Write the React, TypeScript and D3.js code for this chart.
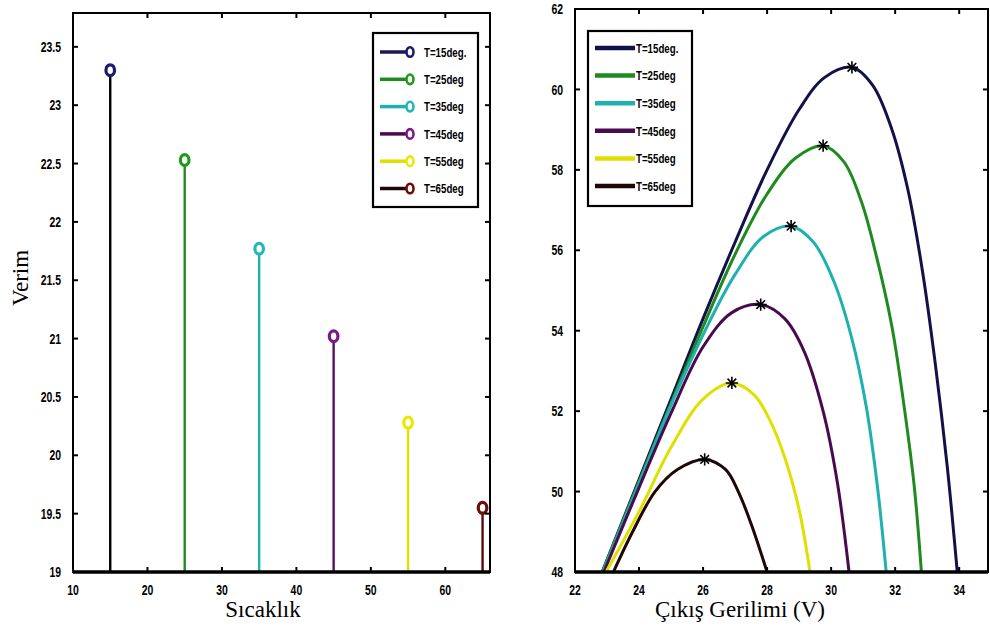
import React, { useEffect, useRef } from 'react';
import * as d3 from 'd3';

// left chart: efficiency vs temperature (stem plot)
const temps = [15, 25, 35, 45, 55, 65];
const verim = [23.3, 22.53, 21.77, 21.02, 20.28, 19.55];
const legendLabels = ['T=15deg.', 'T=25deg', 'T=35deg', 'T=45deg', 'T=55deg', 'T=65deg'];
const leftXTicks = [10, 20, 30, 40, 50, 60];
const leftYTicks = [19, 19.5, 20, 20.5, 21, 21.5, 22, 22.5, 23, 23.5];

// right chart: power vs output voltage, one curve per temperature
const curve15 = [[22.85, 48], [24, 50.3], [25, 52.3], [26, 54.3], [27, 56.2], [28, 58.0], [29, 59.5], [29.8, 60.3], [30.65, 60.55], [31.3, 60.1], [31.9, 59.0], [32.4, 57.5], [32.85, 55.5], [33.25, 53.2], [33.63, 50.6], [33.94, 48]];
const curve25 = [[22.85, 48], [24, 50.25], [25, 52.2], [26, 54.1], [27, 55.9], [28, 57.4], [28.9, 58.3], [29.75, 58.6], [30.4, 58.2], [30.95, 57.2], [31.4, 55.9], [31.9, 54.1], [32.3, 52.0], [32.6, 50.1], [32.82, 48]];
const curve35 = [[22.87, 48], [24, 50.2], [25, 52.15], [26, 53.9], [27, 55.4], [27.9, 56.35], [28.75, 56.6], [29.45, 56.2], [30.1, 55.2], [30.65, 53.8], [31.1, 52.1], [31.45, 50.1], [31.72, 48]];
const curve45 = [[22.9, 48], [24, 50.1], [25, 51.95], [26, 53.6], [26.9, 54.45], [27.8, 54.65], [28.55, 54.3], [29.15, 53.5], [29.75, 52.0], [30.2, 50.2], [30.56, 48]];
const curve55 = [[22.97, 48], [24, 49.5], [25, 51.1], [26, 52.3], [26.9, 52.7], [27.6, 52.4], [28.1, 51.75], [28.55, 50.85], [29.0, 49.55], [29.34, 48]];
const curve65 = [[23.2, 48], [23.8, 49.0], [24.5, 50.0], [25.2, 50.55], [26.05, 50.8], [26.7, 50.55], [27.1, 50.0], [27.5, 49.2], [28.0, 48]];
const peaks = [[30.65, 60.55], [29.75, 58.6], [28.75, 56.6], [27.8, 54.65], [26.9, 52.7], [26.05, 50.8]];
const rightXTicks = [22, 24, 26, 28, 30, 32, 34];
const rightYTicks = [48, 50, 52, 54, 56, 58, 60, 62];

const stemColors = ['#000000', '#1f8a1f', '#1fb0b0', '#5a1060', '#e0e000', '#5a0a0a'];
const markerColors = ['#1c1c6e', '#1f9a1f', '#22b8b8', '#7a1a8a', '#e8e800', '#6a0d0d'];
const lineColors = ['#12124a', '#1f8a1f', '#1fb0b0', '#4a0a50', '#e0e000', '#200606'];

const tickFont = '"Liberation Sans", Arial, sans-serif';
const titleFont = '"Liberation Serif", "Times New Roman", serif';

// MATLAB-like '*' marker: four strokes through the centre
const starSymbol = {
    draw(ctx, size) {
        const r = Math.sqrt(size) / 2;
        const d = r * Math.SQRT1_2;
        ctx.moveTo(-r, 0); ctx.lineTo(r, 0);
        ctx.moveTo(0, -r); ctx.lineTo(0, r);
        ctx.moveTo(-d, -d); ctx.lineTo(d, d);
        ctx.moveTo(-d, d); ctx.lineTo(d, -d);
    }
};

// narrow bold label, squeezed horizontally like the original figure font
function narrowText(g, x, y, txt, anchor, size = 14.5) {
    g.append('text').attr('transform', `translate(${x},${y}) scale(0.72,1)`)
        .attr('dy', '0.35em').attr('text-anchor', anchor)
        .style('font-family', tickFont).style('font-weight', 'bold').style('font-size', size + 'px')
        .text(txt);
}

function drawFrame(g, x, y, xTicks, yTicks) {
    const [x0, x1] = x.range();
    const [y0, y1] = y.range();
    const tl = 5;
    // ticks inside on all four sides
    xTicks.forEach(t => {
        const px = x(t);
        g.append('line').attr('x1', px).attr('x2', px).attr('y1', y0).attr('y2', y0 - tl).attr('stroke', '#000').attr('stroke-width', 2);
        g.append('line').attr('x1', px).attr('x2', px).attr('y1', y1).attr('y2', y1 + tl).attr('stroke', '#000').attr('stroke-width', 2);
        narrowText(g, px, y0 + 18, t, 'middle');
    });
    yTicks.forEach(t => {
        const py = y(t);
        g.append('line').attr('x1', x0).attr('x2', x0 + tl).attr('y1', py).attr('y2', py).attr('stroke', '#000').attr('stroke-width', 2);
        g.append('line').attr('x1', x1).attr('x2', x1 - tl).attr('y1', py).attr('y2', py).attr('stroke', '#000').attr('stroke-width', 2);
        narrowText(g, x0 - 12, py, d3.format('~g')(t), 'end');
    });
    g.append('rect').attr('x', x0).attr('y', y1).attr('width', x1 - x0).attr('height', y0 - y1)
        .attr('fill', 'none').attr('stroke', '#000').attr('stroke-width', 2);
    g.append('line').attr('x1', x0).attr('x2', x1).attr('y1', y0).attr('y2', y0).attr('stroke', '#000').attr('stroke-width', 3.5);
}

function App() {
    const ref = useRef(null);

    useEffect(() => {
        const svg = d3.select(ref.current);
        svg.selectAll('*').remove();

        // ---------- left chart ----------
        const xL = d3.scaleLinear().domain([10, 66]).range([73, 490]);
        const yL = d3.scaleLinear().domain([19, 23.79]).range([572, 13]);
        const gL = svg.append('g');

        temps.forEach((t, i) => {
            gL.append('line').attr('x1', xL(t)).attr('x2', xL(t)).attr('y1', yL(19)).attr('y2', yL(verim[i]) + 6)
                .attr('stroke', stemColors[i]).attr('stroke-width', 2.4);
            gL.append('ellipse').attr('cx', xL(t)).attr('cy', yL(verim[i])).attr('rx', 4.3).attr('ry', 5.4)
                .attr('fill', 'none').attr('stroke', markerColors[i]).attr('stroke-width', 3.2);
        });
        drawFrame(gL, xL, yL, leftXTicks, leftYTicks);

        // legend left
        const lgL = gL.append('g');
        lgL.append('rect').attr('x', 373).attr('y', 33).attr('width', 105).attr('height', 174)
            .attr('fill', '#fff').attr('stroke', '#000').attr('stroke-width', 2.2);
        legendLabels.forEach((lab, i) => {
            const ly = 52 + i * 27.3;
            lgL.append('line').attr('x1', 380).attr('x2', 406).attr('y1', ly).attr('y2', ly)
                .attr('stroke', i === 0 ? '#1a1a50' : lineColors[i]).attr('stroke-width', 3.5);
            lgL.append('ellipse').attr('cx', 410).attr('cy', ly).attr('rx', 3.5).attr('ry', 4.8)
                .attr('fill', 'none').attr('stroke', markerColors[i]).attr('stroke-width', 2.6);
            narrowText(lgL, 424, ly, lab, 'start', 13.5);
        });

        gL.append('text').attr('x', 263).attr('y', 617).attr('text-anchor', 'middle')
            .style('font-family', titleFont).style('font-size', '23px').text('Sıcaklık');
        gL.append('text').attr('transform', 'translate(28,278) rotate(-90)').attr('text-anchor', 'middle')
            .style('font-family', titleFont).style('font-size', '23px').text('Verim');

        // ---------- right chart ----------
        const xR = d3.scaleLinear().domain([22, 34.9]).range([575, 988]);
        const yR = d3.scaleLinear().domain([48, 62]).range([572, 9]);
        const gR = svg.append('g');
        const line = d3.line().x(d => xR(d[0])).y(d => yR(d[1])).curve(d3.curveCatmullRom.alpha(0.5));
        const curves = [curve15, curve25, curve35, curve45, curve55, curve65];

        const plot = gR.append('g');
        curves.forEach((c, i) => {
            plot.append('path').attr('d', line(c)).attr('fill', 'none')
                .attr('stroke', lineColors[i]).attr('stroke-width', 3);
        });
        peaks.forEach(p => {
            plot.append('path').attr('transform', `translate(${xR(p[0])},${yR(p[1])})`)
                .attr('d', d3.symbol(starSymbol, 150)()).attr('fill', 'none')
                .attr('stroke', '#000').attr('stroke-width', 1.6);
        });
        drawFrame(gR, xR, yR, rightXTicks, rightYTicks);

        // legend right
        const lgR = gR.append('g');
        lgR.append('rect').attr('x', 588).attr('y', 31).attr('width', 104).attr('height', 175)
            .attr('fill', '#fff').attr('stroke', '#000').attr('stroke-width', 2.2);
        legendLabels.forEach((lab, i) => {
            const ly = 48 + i * 27.6;
            lgR.append('line').attr('x1', 595).attr('x2', 635).attr('y1', ly).attr('y2', ly)
                .attr('stroke', lineColors[i]).attr('stroke-width', 4.5);
            narrowText(lgR, 636, ly, lab, 'start', 13.5);
        });

        gR.append('text').attr('x', 740).attr('y', 617).attr('text-anchor', 'middle')
            .style('font-family', titleFont).style('font-size', '23px').text('Çıkış Gerilimi (V)');
    }, []);

    return (
        <svg ref={ref} width={990} height={630}
             style={{ position: 'absolute', left: 0, top: 0, background: '#fff' }} />
    );
}

export default App;
